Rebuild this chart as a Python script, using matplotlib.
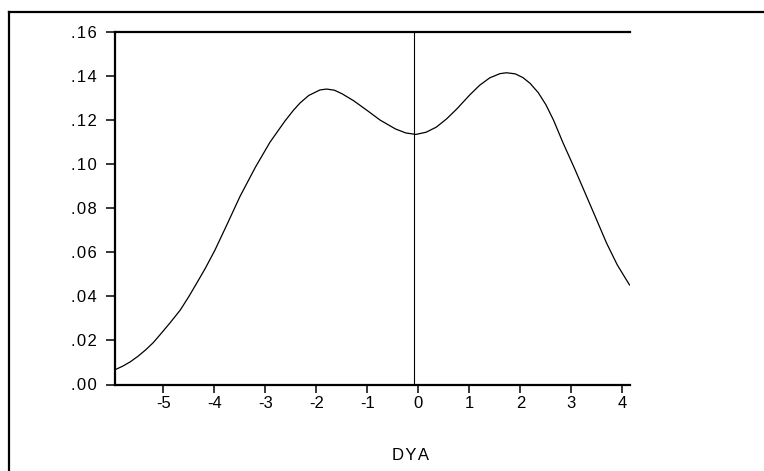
import matplotlib
matplotlib.use("Agg")
import matplotlib.pyplot as plt
from matplotlib.lines import Line2D

plt.rcParams["font.family"] = ["Liberation Sans", "DejaVu Sans"]

# kernel density of DYA
dya = [-5.96, -5.80, -5.65, -5.50, -5.35, -5.20, -5.07, -4.87, -4.67, -4.50,
       -4.35, -4.18, -3.99, -3.75, -3.50, -3.20, -2.91, -2.62, -2.45, -2.32,
       -2.15, -1.93, -1.80, -1.65, -1.50, -1.27, -1.00, -0.75, -0.45, -0.25,
       -0.05, 0.15, 0.35, 0.55, 0.75, 1.01, 1.20, 1.40, 1.60, 1.73,
       1.90, 2.05, 2.19, 2.35, 2.50, 2.65, 2.84, 3.05, 3.30, 3.50,
       3.69, 3.90, 4.14]
density = [0.0066, 0.0083, 0.0103, 0.0128, 0.0157, 0.0190, 0.0225, 0.0280, 0.0338, 0.0400,
           0.0459, 0.0527, 0.0610, 0.0728, 0.0853, 0.0985, 0.1100, 0.1195, 0.1245, 0.1278,
           0.1312, 0.1337, 0.1341, 0.1336, 0.1320, 0.1288, 0.1243, 0.1200, 0.1160, 0.1142,
           0.1135, 0.1145, 0.1168, 0.1205, 0.1250, 0.1315, 0.1358, 0.1392, 0.1411, 0.1415,
           0.1410, 0.1393, 0.1367, 0.1325, 0.1270, 0.1200, 0.1095, 0.0987, 0.0853, 0.0745,
           0.0642, 0.0543, 0.0452]
mean_dya = -0.08

x_ticks = [-5, -4, -3, -2, -1, 0, 1, 2, 3, 4]
y_ticks = [0.00, 0.02, 0.04, 0.06, 0.08, 0.10, 0.12, 0.14, 0.16]


def spaced(s):
    # EViews style letter spacing (hair spaces)
    return "\u200a".join(s)


W, H = 764, 471
fig = plt.figure(figsize=(W / 100, H / 100), dpi=100)
ax = fig.add_axes([114.5 / W, 1 - 384.5 / H, (630 - 114.5) / W, (384.5 - 32) / H])

ax.plot(dya, density, color="black", linewidth=0.9, solid_joinstyle="round")
ax.axvline(mean_dya, color="black", linewidth=0.8)

ax.set_xlim(-5.96, 4.15)
ax.set_ylim(0, 0.16)
ax.set_xticks(x_ticks)
ax.set_xticklabels([str(t) for t in x_ticks])
ax.set_yticks(y_ticks)
ax.set_yticklabels([spaced(f"{t:.2f}".lstrip("0")) for t in y_ticks])

ax.tick_params(axis="y", direction="out", length=6.5, width=1.1, pad=6, labelsize=12)
ax.tick_params(axis="x", direction="out", length=5.5, width=1.1, pad=3, labelsize=12)

ax.spines["right"].set_visible(False)
for side in ("left", "top", "bottom"):
    ax.spines[side].set_linewidth(1.6)

fig.text(411 / W, 1 - 455 / H, spaced("DYA"), ha="center", va="center", fontsize=12)

# outer frame (only top and left edges fall inside the picture)
fig.add_artist(Line2D([9 / W, 9 / W], [-0.01, 1 - 12 / H], transform=fig.transFigure,
                      color="black", linewidth=1.6))
fig.add_artist(Line2D([9 / W, 1.01], [1 - 12 / H, 1 - 12 / H], transform=fig.transFigure,
                      color="black", linewidth=1.6))

fig.savefig("out.png", dpi=100)
